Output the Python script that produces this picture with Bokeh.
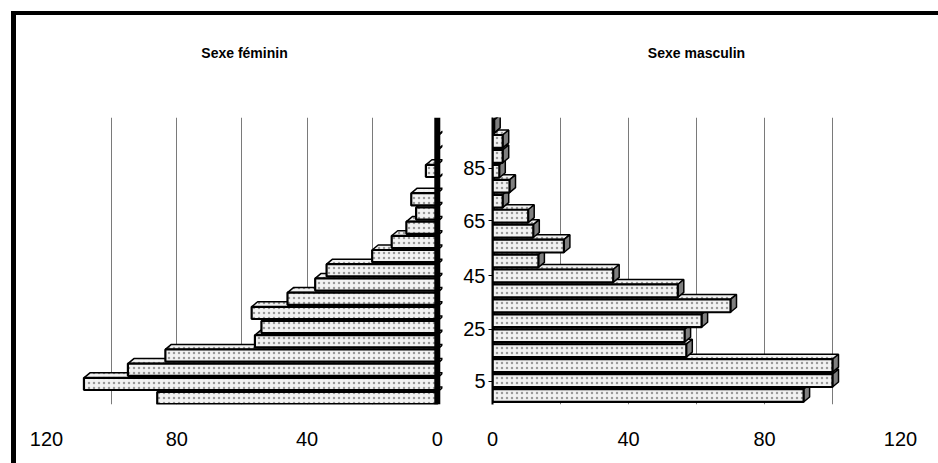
from bokeh.plotting import figure
from bokeh.layouts import row
from bokeh.models import Range1d, FixedTicker, Span, Title
from bokeh.embed import file_html
from bokeh.resources import INLINE

# ---- data ----
age_groups = ["0", "5", "10", "15", "20", "25", "30", "35", "40", "45",
              "50", "55", "60", "65", "70", "75", "80", "85", "90"]
female = [86, 108.5, 95, 83.5, 56, 54, 57, 46, 37.5, 34,
          20, 14, 9.5, 6.5, 8, 0.3, 3.5, 0.3, 0.3]
male = [91.5, 100, 100, 57, 56.5, 61.5, 70, 54.5, 35.5, 13.5,
        21, 12, 10.5, 3, 5, 2, 3, 3, 0.5]
x_tick_values = [0, 40, 80, 120]
grid_values = [20, 40, 60, 80, 100, 120]
age_tick_labels = ["5", "25", "45", "65", "85"]
title_f = "Sexe féminin"
title_m = "Sexe masculin"

# ---- layout constants ----
FONT = "Liberation Sans"
age_tick_pos = [0.95, 4.45, 8.0, 11.7, 15.2]
BAR_H = 0.86
DX_PX, DY_PX = 6.0, 5.0
ypos = list(range(len(age_groups)))

HATCH = dict(fill_color="#f2f2f2", hatch_pattern=".", hatch_color="#9a9a9a",
             hatch_scale=5, hatch_weight=3.2)


def faces(vals, dxu, dyu, sign):
    top_xs, top_ys, side_xs, side_ys = [], [], [], []
    for y, v in zip(ypos, vals):
        yt = y + BAR_H / 2
        yb = y - BAR_H / 2
        top_xs.append([0, v, v + sign * dxu, sign * dxu])
        top_ys.append([yt, yt, yt + dyu, yt + dyu])
        side_xs.append([v, v, v + sign * dxu, v + sign * dxu])
        side_ys.append([yb, yt, yt + dyu, yb + dyu])
    return top_xs, top_ys, side_xs, side_ys


def base_fig(width, xr, yr, mbl, mbr, y_axis, title):
    p = figure(width=width, height=448, x_range=xr, y_range=yr,
               output_backend="svg", toolbar_location=None,
               y_axis_location=y_axis, min_border_left=mbl,
               min_border_right=mbr, min_border_top=102,
               min_border_bottom=59, title=None)
    # spacer between frame and title (first added = closest to the frame)
    p.add_layout(Title(text=" ", text_font=FONT, text_font_size="14px",
                       standoff=39), "above")
    p.add_layout(Title(text=title, align="center", text_font=FONT,
                       text_font_size="14px", text_font_style="bold",
                       text_color="black", standoff=0), "above")
    p.outline_line_color = None
    p.background_fill_color = "white"
    p.border_fill_color = "white"
    p.ygrid.visible = False
    p.xgrid.ticker = FixedTicker(ticks=grid_values)
    p.xgrid.grid_line_color = "#7a7a7a"
    p.xgrid.grid_line_width = 1
    ax = p.xaxis[0]
    ax.ticker = FixedTicker(ticks=x_tick_values)
    ax.axis_line_color = None
    ax.major_tick_line_color = None
    ax.minor_tick_line_color = None
    ax.major_label_text_font = FONT
    ax.major_label_text_font_size = "20px"
    ax.major_label_text_color = "black"
    ax.major_label_standoff = 21
    return p


# ---- female panel ----
yr_f = Range1d(-0.45, 19.76)
pf = base_fig(428, Range1d(120, -1.6), yr_f, 30, 2, None, title_f)
dxu_f = DX_PX / 3.26
dyu_f = DY_PX / 14.2
txs, tys, sxs, sys_ = faces(female, dxu_f, dyu_f, -1)
pf.patches(txs, tys, line_color="black", line_width=1.5, **HATCH)
pf.hbar(y=ypos, left=0, right=female, height=BAR_H, line_color="black",
        line_width=2.2, **HATCH)
pf.add_layout(Span(location=0, dimension="height", line_color="black",
                   line_width=6))

# ---- male panel ----
yr_m = Range1d(-0.6, 18.6)
pm = base_fig(494, Range1d(0, 120), yr_m, 48, 38, "left", title_m)
ya = pm.yaxis[0]
ya.ticker = FixedTicker(ticks=age_tick_pos)
ya.major_label_overrides = {t: s for t, s in zip(age_tick_pos, age_tick_labels)}
ya.major_label_text_font = FONT
ya.major_label_text_font_size = "20px"
ya.major_label_text_color = "black"
ya.major_label_standoff = 3
ya.axis_line_color = "black"
ya.axis_line_width = 2
ya.major_tick_in = 0
ya.major_tick_out = 4
ya.major_tick_line_color = "black"
ya.minor_tick_line_color = None
dxu_m = DX_PX / 3.4
dyu_m = DY_PX / 14.95
txs, tys, sxs, sys_ = faces(male, dxu_m, dyu_m, 1)
pm.patches(txs, tys, line_color="black", line_width=1.5, **HATCH)
pm.patches(sxs, sys_, fill_color="#7f7f7f", line_color="black", line_width=1.5)
pm.hbar(y=ypos, left=0, right=male, height=BAR_H, line_color="black",
        line_width=2.2, **HATCH)

layout = row(pf, pm, margin=(11, 0, 0, 11),
             styles={"border-left": "5px solid black",
                     "border-top": "4px solid black"})

open("out.html", "w").write(file_html(layout, INLINE))
